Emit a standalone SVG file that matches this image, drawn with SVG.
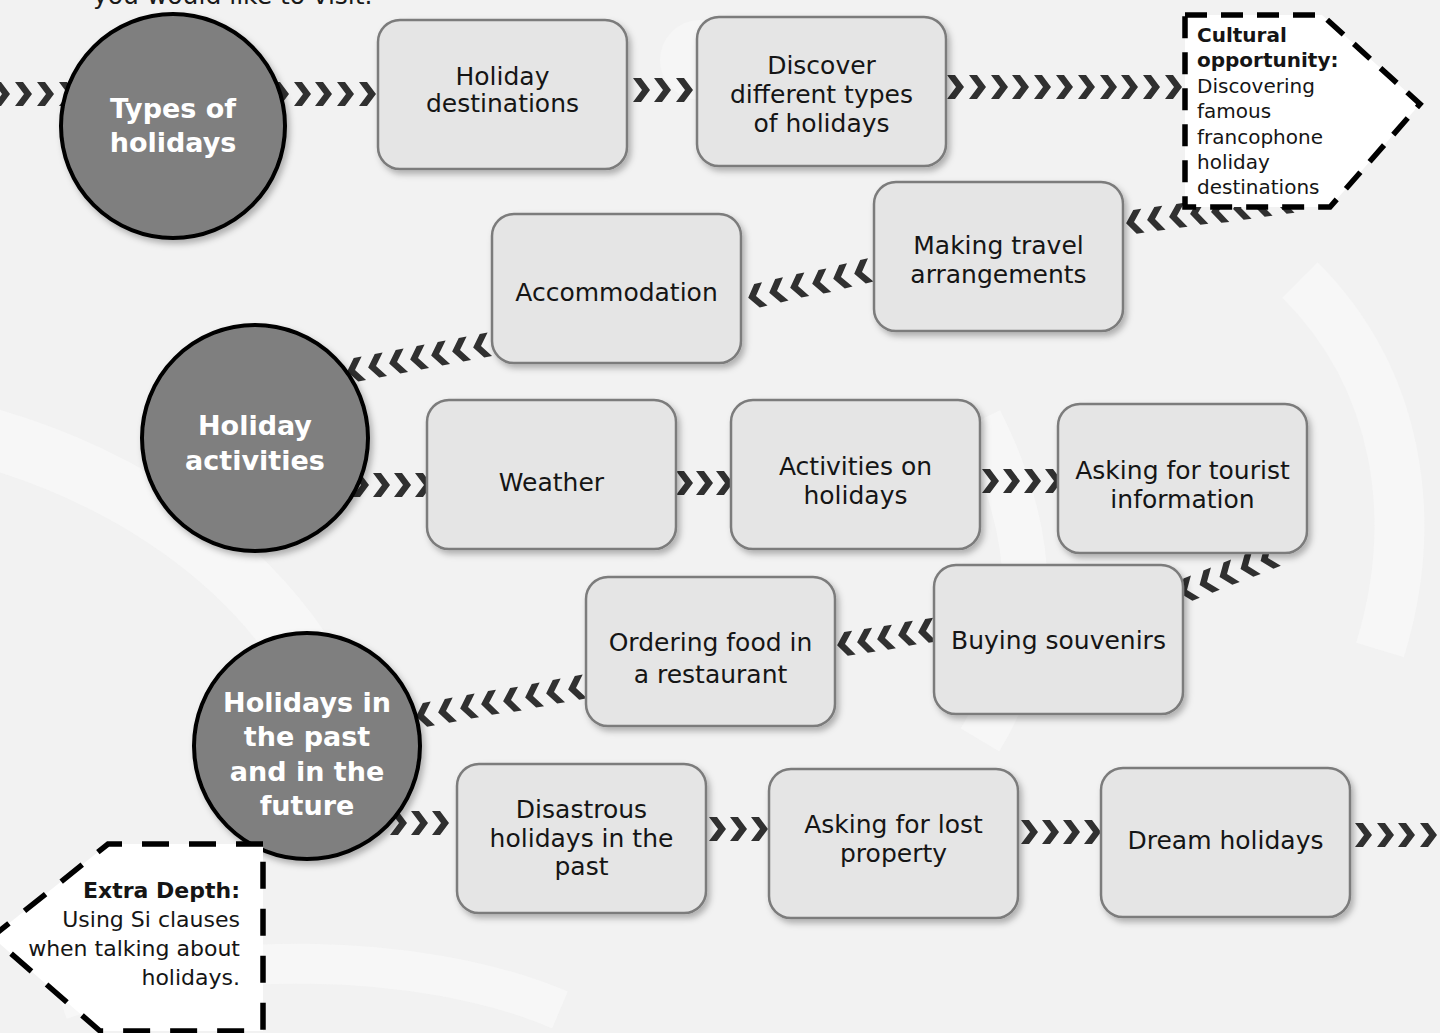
<svg xmlns="http://www.w3.org/2000/svg" width="1440" height="1033" viewBox="0 0 1440 1033">
<style>
.box{fill:#e5e5e5;stroke:#7b7b7b;stroke-width:2.5;filter:url(#sh)}
.hub{fill:#7f7f7f;stroke:#000;stroke-width:4;filter:url(#sh)}
.bt{font-family:"DejaVu Sans",sans-serif;font-size:25px;fill:#151515;text-anchor:middle}
.ht{font-family:"DejaVu Sans",sans-serif;font-weight:bold;font-size:27px;fill:#fff;text-anchor:middle}
.ct{font-family:"DejaVu Sans",sans-serif;font-size:20px;fill:#151515}
.et{font-family:"DejaVu Sans",sans-serif;font-size:22px;fill:#151515;text-anchor:end}
.b{font-weight:bold}
.chev{fill:none;stroke:none;marker-start:url(#cv);marker-mid:url(#cv);marker-end:url(#cv)}
.call{fill:#fff;stroke:#000;stroke-width:5.5}
.wm{fill:none;stroke:#f8f8f8;opacity:0.8}
</style>
<defs>
<filter id="sh" x="-20%" y="-20%" width="140%" height="140%">
<feDropShadow dx="3" dy="4" stdDeviation="3" flood-color="#000" flood-opacity="0.28"/>
</filter>
<marker id="cv" markerUnits="userSpaceOnUse" viewBox="-10 -13 20 26" markerWidth="20" markerHeight="26" refX="0" refY="0" orient="auto">
<path d="M-9,-12 L-1,-12 L8,0 L-1,12 L-9,12 L0,0 Z" fill="#303030"/>
</marker>
</defs>
<rect x="0" y="0" width="1440" height="1033" fill="#f2f2f2"/>
<g id="watermark">
<path class="wm" stroke-width="60" d="M-40,430 C120,470 260,560 330,700"/>
<path class="wm" stroke-width="40" d="M60,1000 C200,950 420,950 560,1010"/>
<path class="wm" stroke-width="50" d="M1300,280 C1400,380 1420,520 1380,650"/>
<circle cx="700" cy="60" r="40" fill="#f6f6f6"/>
<path class="wm" stroke-width="45" d="M980,420 C1040,540 1040,640 980,740"/>
</g>
<text x="93" y="4" font-family="DejaVu Sans,sans-serif" font-size="25" fill="#1a1a1a">you would like to visit.</text>
<g id="connectors">
<path class="chev" d="M2,94 L24,94 L46,94 L68,94"/>
<path class="chev" d="M281,94 L303,94 L324,94 L346,94 L368,94"/>
<path class="chev" d="M642,90 L663,90 L685,90"/>
<path class="chev" d="M956,87 L978,87 L1000,87 L1021,87 L1043,87 L1065,87 L1087,87 L1109,87 L1130,87 L1152,87 L1174,87"/>
<path class="chev" d="M1284,202 L1262,205 L1241,208 L1219,211 L1198,213 L1177,216 L1155,219 L1134,222"/>
<path class="chev" d="M862,272 L841,277 L820,282 L798,286 L777,291 L756,296"/>
<path class="chev" d="M481,346 L460,350 L439,354 L418,358 L397,362 L376,366 L355,370"/>
<path class="chev" d="M340,485 L361,485 L382,485 L403,485 L424,485"/>
<path class="chev" d="M685,483 L705,483 L725,483"/>
<path class="chev" d="M991,481 L1012,481 L1033,481 L1054,481"/>
<path class="chev" d="M1268,558 L1248,566 L1227,574 L1207,582 L1187,590"/>
<path class="chev" d="M926,631 L906,634 L885,638 L865,641 L845,644"/>
<path class="chev" d="M576,688 L554,692 L533,696 L511,700 L489,703 L468,707 L446,711 L424,715"/>
<path class="chev" d="M378,823 L399,823 L420,823 L441,823"/>
<path class="chev" d="M718,829 L739,829 L760,829"/>
<path class="chev" d="M1030,832 L1051,832 L1072,832 L1093,832"/>
<path class="chev" d="M1343,835 L1364,835 L1386,835 L1407,835 L1429,835"/>
</g>
<g id="types-of-holidays">
<circle class="hub" cx="173" cy="126" r="112"/>
<text class="ht" x="173" y="118">Types of</text>
<text class="ht" x="173" y="152">holidays</text>
</g>
<g id="holiday-activities">
<circle class="hub" cx="255" cy="438" r="113"/>
<text class="ht" x="255" y="435">Holiday</text>
<text class="ht" x="255" y="470">activities</text>
</g>
<g id="holidays-past-future">
<circle class="hub" cx="307" cy="746" r="113"/>
<text class="ht" x="307" y="712">Holidays in</text>
<text class="ht" x="307" y="746">the past</text>
<text class="ht" x="307" y="781">and in the</text>
<text class="ht" x="307" y="815">future</text>
</g>
<g id="holiday-destinations">
<rect class="box" x="378" y="20" width="249" height="149" rx="22"/>
<text class="bt" x="502.5" y="85">Holiday</text>
<text class="bt" x="502.5" y="112">destinations</text>
</g>
<g id="discover-types">
<rect class="box" x="697" y="17" width="249" height="149" rx="22"/>
<text class="bt" x="821.5" y="74">Discover</text>
<text class="bt" x="821.5" y="103">different types</text>
<text class="bt" x="821.5" y="132">of holidays</text>
</g>
<g id="making-travel">
<rect class="box" x="874" y="182" width="249" height="149" rx="22"/>
<text class="bt" x="998.5" y="254">Making travel</text>
<text class="bt" x="998.5" y="283">arrangements</text>
</g>
<g id="accommodation">
<rect class="box" x="492" y="214" width="249" height="149" rx="22"/>
<text class="bt" x="616.5" y="301">Accommodation</text>
</g>
<g id="weather">
<rect class="box" x="427" y="400" width="249" height="149" rx="22"/>
<text class="bt" x="551.5" y="491">Weather</text>
</g>
<g id="activities-on-holidays">
<rect class="box" x="731" y="400" width="249" height="149" rx="22"/>
<text class="bt" x="855.5" y="475">Activities on</text>
<text class="bt" x="855.5" y="504">holidays</text>
</g>
<g id="tourist-information">
<rect class="box" x="1058" y="404" width="249" height="149" rx="22"/>
<text class="bt" x="1182.5" y="479">Asking for tourist</text>
<text class="bt" x="1182.5" y="508">information</text>
</g>
<g id="buying-souvenirs">
<rect class="box" x="934" y="565" width="249" height="149" rx="22"/>
<text class="bt" x="1058.5" y="649">Buying souvenirs</text>
</g>
<g id="ordering-food">
<rect class="box" x="586" y="577" width="249" height="149" rx="22"/>
<text class="bt" x="710.5" y="651">Ordering food in</text>
<text class="bt" x="710.5" y="683">a restaurant</text>
</g>
<g id="disastrous-holidays">
<rect class="box" x="457" y="764" width="249" height="149" rx="22"/>
<text class="bt" x="581.5" y="818">Disastrous</text>
<text class="bt" x="581.5" y="847">holidays in the</text>
<text class="bt" x="581.5" y="875">past</text>
</g>
<g id="lost-property">
<rect class="box" x="769" y="769" width="249" height="149" rx="22"/>
<text class="bt" x="893.5" y="833">Asking for lost</text>
<text class="bt" x="893.5" y="862">property</text>
</g>
<g id="dream-holidays">
<rect class="box" x="1101" y="768" width="249" height="149" rx="22"/>
<text class="bt" x="1225.5" y="849">Dream holidays</text>
</g>
<g id="cultural-opportunity">
<path class="call" stroke-dasharray="22 14" d="M1185,15 L1322,15 L1420,104 L1330,207 L1185,207 Z"/>
<text class="ct b" x="1197" y="42">Cultural</text>
<text class="ct b" x="1197" y="67">opportunity:</text>
<text class="ct" x="1197" y="93">Discovering</text>
<text class="ct" x="1197" y="118">famous</text>
<text class="ct" x="1197" y="144">francophone</text>
<text class="ct" x="1197" y="169">holiday</text>
<text class="ct" x="1197" y="194">destinations</text>
</g>
<g id="extra-depth">
<path class="call" stroke-width="6" stroke-dasharray="27 20" d="M263,844 L108,844 L-8,937 L100,1031 L263,1031 Z"/>
<text class="et b" x="240" y="898">Extra Depth:</text>
<text class="et" x="240" y="927">Using Si clauses</text>
<text class="et" x="240" y="956">when talking about</text>
<text class="et" x="240" y="985">holidays.</text>
</g>
</svg>
